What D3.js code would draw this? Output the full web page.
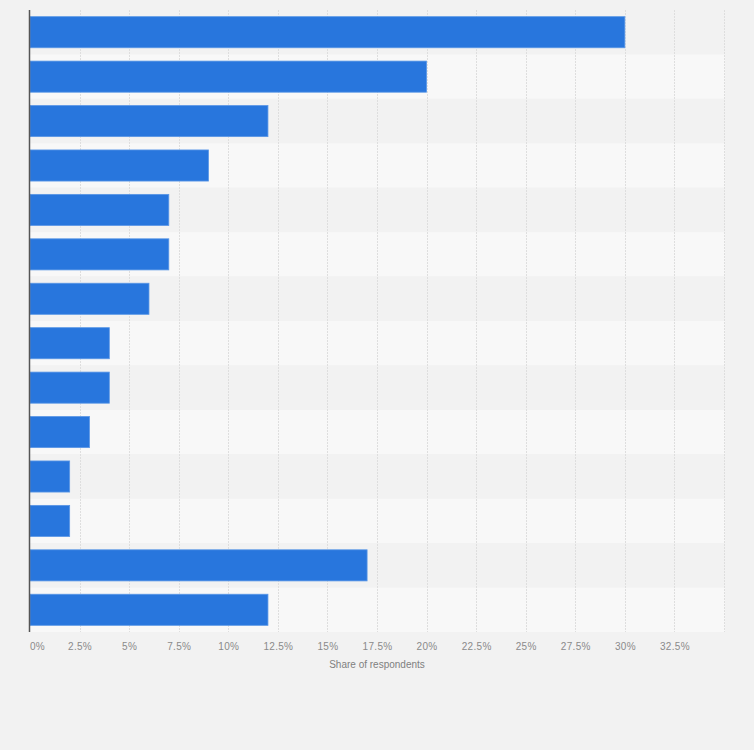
<!DOCTYPE html>
<html>
<head>
<meta charset="utf-8">
<script src="https://cdn.jsdelivr.net/npm/d3@7"></script>
<style>
  html, body { margin: 0; padding: 0; background: #f2f2f2; }
  svg { display: block; }
  text { font-family: "Liberation Sans", Arial, sans-serif; }
</style>
</head>
<body>
<svg id="chart" width="754" height="750"></svg>
<script>
// Categories (labels not shown in the reference)
const categories = ["A", "B", "C", "D", "E", "F", "G", "H", "I", "J", "K", "L", "M", "N"];
const values = [30, 20, 12, 9, 7, 7, 6, 4, 4, 3, 2, 2, 17, 12];
const tickValues = [0, 2.5, 5, 7.5, 10, 12.5, 15, 17.5, 20, 22.5, 25, 27.5, 30, 32.5];
const tickLabels = ["0%", "2.5%", "5%", "7.5%", "10%", "12.5%", "15%", "17.5%", "20%", "22.5%", "25%", "27.5%", "30%", "32.5%"];
const gridValues = [2.5, 5, 7.5, 10, 12.5, 15, 17.5, 20, 22.5, 25, 27.5, 30, 32.5, 35];
const axisTitle = "Share of respondents";

(function () {
const svg = d3.select("#chart");
const mLeft = 30, mRight = 724, mTop = 10, mBottom = 632;

const x = d3.scaleLinear().domain([0, 35]).range([mLeft, mRight]);
const rows = d3.scaleBand().domain(categories).range([mTop, mBottom]);
const y = d3.scaleBand().domain(categories).range([mTop, mBottom]).paddingInner(0.3).paddingOuter(0.15);

// alternating row backgrounds
svg.append("g").selectAll("rect").data(categories).join("rect")
  .attr("x", mLeft).attr("width", mRight - mLeft + 1)
  .attr("y", d => rows(d)).attr("height", rows.bandwidth())
  .attr("fill", (d, i) => i % 2 === 0 ? "#f2f2f2" : "#f8f8f8");

// gridlines
svg.append("g").selectAll("line").data(gridValues).join("line")
  .attr("x1", d => Math.round(x(d)) + 0.5).attr("x2", d => Math.round(x(d)) + 0.5)
  .attr("y1", mTop).attr("y2", mBottom)
  .attr("stroke", "#dedede").attr("stroke-width", 1)
  .attr("stroke-dasharray", "2,1");

// bars
svg.append("g").selectAll("rect").data(values).join("rect")
  .attr("x", mLeft)
  .attr("y", (d, i) => y(categories[i]))
  .attr("width", d => x(d) - mLeft)
  .attr("height", y.bandwidth())
  .attr("fill", "#2876dd")
  .attr("stroke", "#5a97e6").attr("stroke-width", 0.8);

// y axis line
svg.append("line")
  .attr("x1", mLeft - 0.5).attr("x2", mLeft - 0.5)
  .attr("y1", mTop).attr("y2", mBottom)
  .attr("stroke", "#555").attr("stroke-width", 1.5);

// x axis tick labels
const xAxis = d3.axisBottom(x)
  .tickValues(tickValues)
  .tickSize(0)
  .tickPadding(0)
  .tickFormat((d, i) => tickLabels[i]);
const gx = svg.append("g").attr("transform", `translate(0, ${mBottom + 18})`).call(xAxis);
gx.select(".domain").remove();
gx.selectAll("text")
  .attr("dy", 0)
  .attr("fill", "#8a8a8a")
  .style("font-size", "10px")
  .style("letter-spacing", "0.3px")
  .attr("dx", (d, i) => i === 0 ? 7 : 0);

// axis title
svg.append("text")
  .attr("x", (mLeft + mRight) / 2)
  .attr("y", 668)
  .attr("text-anchor", "middle")
  .attr("fill", "#808080")
  .style("font-size", "10px")
  .text(axisTitle);
})();
</script>
</body>
</html>
